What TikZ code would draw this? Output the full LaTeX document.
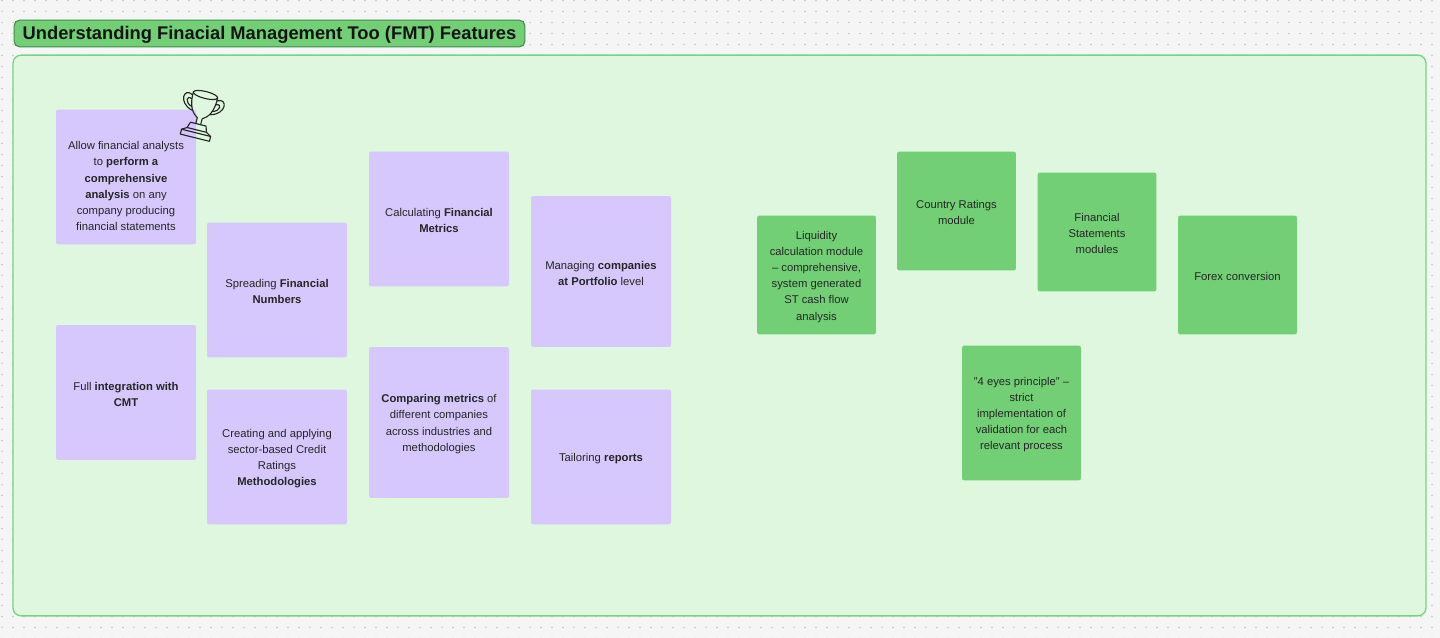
\documentclass[tikz,border=0pt]{standalone}
\usepackage{fontspec}
\setmainfont{Liberation Sans}
\newcommand{\cardlead}{\rule{0pt}{8.6pt}}
\definecolor{bgc}{HTML}{F5F5F5}
\definecolor{dotc}{HTML}{C6C6C6}
\definecolor{panelc}{HTML}{DEF7DE}
\definecolor{panelb}{HTML}{79D283}
\definecolor{purplec}{HTML}{D6C8FC}
\definecolor{greenc}{HTML}{72CF75}
\definecolor{titleb}{HTML}{3E8E48}
\definecolor{inkc}{HTML}{262626}
\tikzset{
  x=0.75pt,y=-0.75pt,
  card/.style={rectangle,rounded corners=1.5pt,inner sep=0pt,align=center,text=inkc,
    font=\fontsize{8.45pt}{12.15pt}\selectfont},
  pcard/.style={card,fill=purplec,minimum width=105pt,minimum height=101pt},
  gcard/.style={card,fill=greenc,minimum width=89pt,minimum height=89pt},
  trophy/.style={draw=black!85,line width=0.85pt,line join=round,line cap=round},
  dotrow/.style={draw=dotc,line width=1.2pt,line cap=round,dash pattern=on 0pt off 8.25pt}
}
\begin{document}
\begin{tikzpicture}
\useasboundingbox (0,0) rectangle (1440,638);
\fill[bgc] (0,0) rectangle (1440,638);
\foreach \j in {0,...,58}{
  \draw[dotrow] (2,0.5+11*\j) -- (1440,0.5+11*\j);}
\node[rectangle,draw=panelb,line width=1pt,fill=panelc,rounded corners=6pt,inner sep=0pt,
  minimum width=1059.75pt,minimum height=420.5pt] (panel) at (719.5,335.5) {};
\node[rectangle,draw=titleb,line width=0.8pt,fill=greenc,rounded corners=4pt,inner sep=0pt,
  minimum width=383pt,minimum height=20pt,text=black!92,align=center,
  font=\fontsize{13.75pt}{18pt}\bfseries\selectfont] (title) at (269.5,33.5)
  {\rule{0pt}{12.5pt}Understanding Finacial Management Too (FMT) Features};
\node[pcard] (a) at (126,177) {\cardlead\mbox{}\\[-1pt]Allow financial analysts\\to \textbf{perform a}\\\textbf{comprehensive}\\\textbf{analysis} on any\\company producing\\financial statements};
\node[pcard] (b) at (126,392.5) {\cardlead Full \textbf{integration with}\\\textbf{CMT}};
\node[pcard] (c) at (277,290) {\cardlead Spreading \textbf{Financial}\\\textbf{Numbers}};
\node[pcard] (d) at (277,457) {\cardlead Creating and applying\\sector-based Credit\\Ratings\\\textbf{Methodologies}};
\node[pcard] (e) at (439,219) {\cardlead Calculating \textbf{Financial}\\\textbf{Metrics}};
\node[pcard,minimum height=113pt] (f) at (439,422.5) {\cardlead\textbf{Comparing metrics} of\\different companies\\across industries and\\methodologies};
\node[pcard,minimum height=113pt] (g) at (601,271.5) {\cardlead Managing \textbf{companies}\\\textbf{at Portfolio} level};
\node[pcard] (h) at (601,457) {\cardlead Tailoring \textbf{reports}};
\node[gcard] (i) at (816.5,275) {\cardlead Liquidity\\calculation module\\– comprehensive,\\system generated\\ST cash flow\\analysis};
\node[gcard] (j) at (956.5,211) {\cardlead Country Ratings\\module};
\node[gcard] (k) at (1097,232) {\cardlead Financial\\Statements\\modules};
\node[gcard] (l) at (1237.5,275) {\cardlead Forex conversion};
\node[gcard,minimum height=101pt] (m) at (1021.5,413) {\cardlead"4 eyes principle" –\\strict\\implementation of\\validation for each\\relevant process};
\begin{scope}[shift={(205.5,95)},rotate=-14,trophy]
  \draw (0,0) ellipse[x radius=12.5,y radius=3.5];
  \draw (-12.5,0) .. controls (-13,14) and (-8,21) .. (-2.5,24) -- (-2.5,30);
  \draw (12.5,0) .. controls (13,14) and (8,21) .. (2.5,24) -- (2.5,30);
  \draw (-12.5,3) .. controls (-23,-3) and (-25,14) .. (-9.5,18);
  \draw (-12.5,7) .. controls (-18,4) and (-19,12) .. (-10.5,14.5);
  \draw (12.5,3) .. controls (23,-3) and (25,14) .. (9.5,18);
  \draw (12.5,7) .. controls (18,4) and (19,12) .. (10.5,14.5);
  \draw (-8,30) -- (8,30) -- (10,36) -- (-10,36) -- cycle;
  \draw (-10,36) -- (-15,39) -- (-15,44) -- (15,44) -- (15,39) -- (10,36);
  \draw (-15,39) -- (15,39);
\end{scope}
\end{tikzpicture}
\end{document}
